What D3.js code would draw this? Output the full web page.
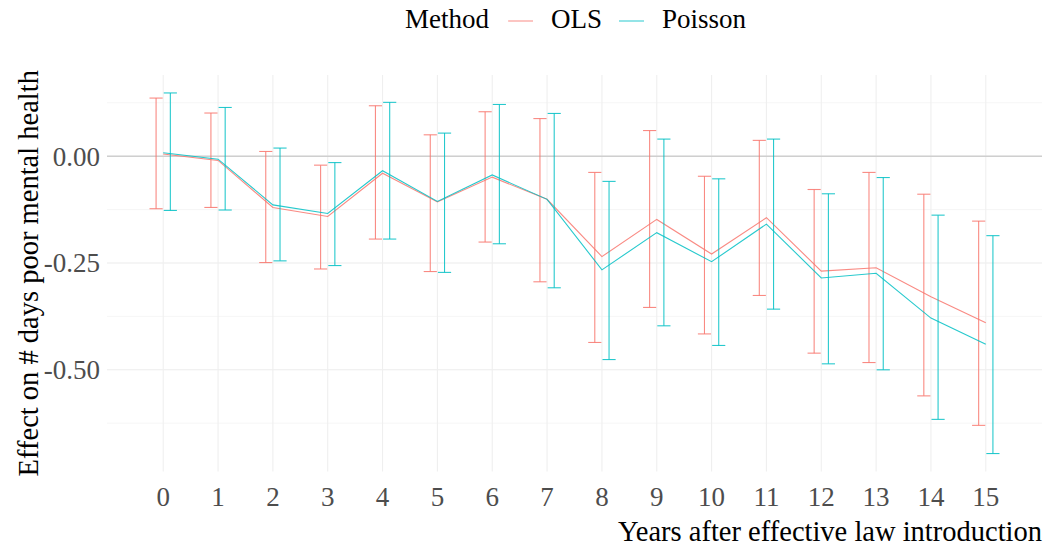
<!DOCTYPE html>
<html>
<head>
<meta charset="utf-8">
<script src="https://cdn.jsdelivr.net/npm/d3@7"></script>
<style>
  html, body { margin: 0; padding: 0; background: #fff; }
  text { font-family: "Liberation Serif", "DejaVu Serif", serif; }
</style>
</head>
<body>
<svg id="chart" width="1048" height="548"></svg>
<script>
// ── data: event-study coefficients with 95% CIs
const years = [0, 1, 2, 3, 4, 5, 6, 7, 8, 9, 10, 11, 12, 13, 14, 15];

const olsEst  = [0.005, -0.010, -0.120, -0.141, -0.040, -0.107, -0.049, -0.101, -0.235, -0.148, -0.229, -0.144, -0.269, -0.261, -0.329, -0.390];
const olsLo   = [-0.123, -0.120, -0.249, -0.264, -0.194, -0.270, -0.201, -0.294, -0.436, -0.354, -0.416, -0.326, -0.461, -0.483, -0.561, -0.630];
const olsHi   = [0.136, 0.101, 0.011, -0.021, 0.118, 0.050, 0.104, 0.088, -0.038, 0.060, -0.047, 0.037, -0.078, -0.038, -0.089, -0.152];

const poisEst = [0.008, -0.007, -0.114, -0.134, -0.034, -0.106, -0.044, -0.101, -0.266, -0.179, -0.247, -0.159, -0.285, -0.274, -0.379, -0.440];
const poisLo  = [-0.127, -0.126, -0.245, -0.256, -0.194, -0.272, -0.205, -0.308, -0.476, -0.397, -0.443, -0.358, -0.486, -0.500, -0.616, -0.696];
const poisHi  = [0.148, 0.114, 0.019, -0.015, 0.126, 0.054, 0.121, 0.100, -0.059, 0.040, -0.053, 0.040, -0.088, -0.050, -0.138, -0.186];

const methods = ['OLS', 'Poisson'];
const yTicks = [0, -0.25, -0.5];
const yMinor = [0.125, -0.125, -0.375, -0.625];

const colors = { OLS: '#F8766D', Poisson: '#00BFC4' };
const series = [
  { name: 'OLS', est: olsEst, lo: olsLo, hi: olsHi, dodge: -0.13 },
  { name: 'Poisson', est: poisEst, lo: poisLo, hi: poisHi, dodge: 0.13 },
];

const svg = d3.select('#chart');
const panel = { left: 107, right: 1042, top: 75, bottom: 471.5 };

// continuous x: data span [-0.25, 15.25] plus ggplot's 5% expansion
const x = d3.scaleLinear().domain([-1.025, 16.025]).range([panel.left, panel.right]);
const y = d3.scaleLinear().domain([-0.738, 0.19]).range([panel.bottom, panel.top]);

const grid = svg.append('g');
grid.selectAll('line.minor').data(yMinor).enter().append('line')
  .attr('x1', panel.left).attr('x2', panel.right)
  .attr('y1', d => y(d)).attr('y2', d => y(d))
  .attr('stroke', '#f4f4f4').attr('stroke-width', 0.8);
grid.selectAll('line.major').data(yTicks).enter().append('line')
  .attr('x1', panel.left).attr('x2', panel.right)
  .attr('y1', d => y(d)).attr('y2', d => y(d))
  .attr('stroke', '#ececec').attr('stroke-width', 1.1);
grid.selectAll('line.vx').data(years).enter().append('line')
  .attr('x1', d => x(d)).attr('x2', d => x(d))
  .attr('y1', panel.top).attr('y2', panel.bottom)
  .attr('stroke', '#efefef').attr('stroke-width', 1.1);

// reference line at zero
svg.append('line')
  .attr('x1', panel.left).attr('x2', panel.right)
  .attr('y1', y(0)).attr('y2', y(0))
  .attr('stroke', '#cfcfcf').attr('stroke-width', 1.6);

// error bars (dodged) and estimate lines (not dodged)
const capHalf = 0.12;
series.forEach(s => {
  const g = svg.append('g').attr('stroke', colors[s.name]).attr('fill', 'none')
    .attr('stroke-width', 1.1).attr('stroke-opacity', 0.85);
  years.forEach((yr, i) => {
    const cx = yr + s.dodge;
    g.append('line').attr('x1', x(cx)).attr('x2', x(cx)).attr('y1', y(s.lo[i])).attr('y2', y(s.hi[i]));
    g.append('line').attr('x1', x(cx - capHalf)).attr('x2', x(cx + capHalf)).attr('y1', y(s.lo[i])).attr('y2', y(s.lo[i]));
    g.append('line').attr('x1', x(cx - capHalf)).attr('x2', x(cx + capHalf)).attr('y1', y(s.hi[i])).attr('y2', y(s.hi[i]));
  });
  const line = d3.line().x((d, i) => x(years[i])).y(d => y(d));
  g.append('path').attr('d', line(s.est));
});

// axes text
const tickCol = '#4d4d4d';
svg.append('g').selectAll('text').data(yTicks).enter().append('text')
  .attr('x', 100).attr('y', d => y(d)).attr('dy', '0.35em')
  .attr('text-anchor', 'end').attr('fill', tickCol).attr('font-size', 27)
  .text(d => d3.format('.2f')(d).replace('−', '-'));
svg.append('g').selectAll('text').data(years).enter().append('text')
  .attr('x', d => x(d)).attr('y', 497).attr('dy', '0.35em')
  .attr('text-anchor', 'middle').attr('fill', tickCol).attr('font-size', 27)
  .text(d => d);

svg.append('text').attr('x', panel.right).attr('y', 541)
  .attr('text-anchor', 'end').attr('fill', '#000').attr('font-size', 28.5)
  .text('Years after effective law introduction');
svg.append('text')
  .attr('transform', `translate(38, ${(panel.top + panel.bottom) / 2}) rotate(-90)`)
  .attr('text-anchor', 'middle').attr('fill', '#000').attr('font-size', 28.5)
  .text('Effect on # days poor mental health');

// legend on top
const leg = svg.append('g').attr('font-size', 27);
leg.append('text').attr('x', 405).attr('y', 28).text('Method');
const keys = [{ m: 'OLS', kx: 508, tx: 551 }, { m: 'Poisson', kx: 619, tx: 662 }];
keys.forEach(k => {
  leg.append('line').attr('x1', k.kx).attr('x2', k.kx + 25).attr('y1', 21).attr('y2', 21)
    .attr('stroke', colors[k.m]).attr('stroke-width', 1.2).attr('stroke-opacity', 0.7);
  leg.append('text').attr('x', k.tx).attr('y', 28).text(k.m);
});
</script>
</body>
</html>
